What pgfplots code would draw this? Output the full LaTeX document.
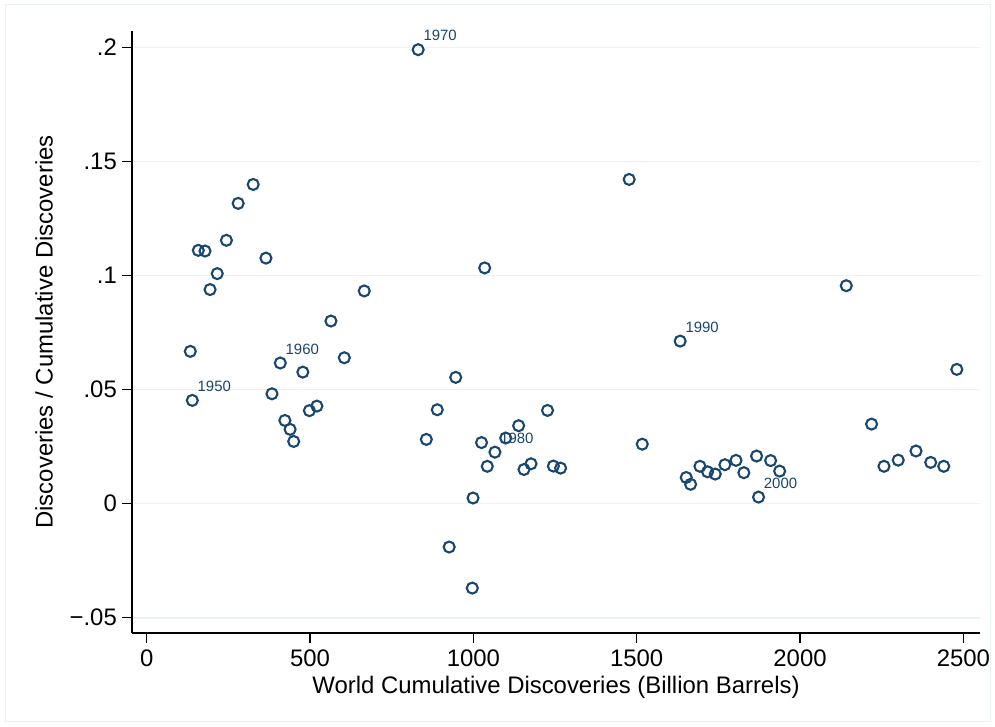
\documentclass[border=0pt]{standalone}
\usepackage{fontspec}
\setmainfont{Liberation Sans}
\usepackage{pgfplots}
\pgfplotsset{compat=1.18}
\definecolor{stnavy}{HTML}{1A476F}
\definecolor{stgrid}{HTML}{EAF2F3}
\begin{document}
\begin{tikzpicture}[x=1bp,y=1bp]
\useasboundingbox (0,0) rectangle (995,727);
\fill[white] (0,0) rectangle (995,727);
\draw[stgrid, line width=1bp] (5,5) rectangle (990,722);
\begin{axis}[
  at={(132bp,94bp)}, anchor=south west,
  scale only axis, width=848bp, height=602bp,
  xmin=-45, xmax=2551, ymin=-0.0567, ymax=0.2073,
  axis x line*=bottom, axis y line*=left,
  axis line style={line width=1.3bp, black, -},
  xtick={0,500,1000,1500,2000,2500},
  xticklabels={0,500,1000,1500,2000,2500},
  ytick={-0.05,0,0.05,0.1,0.15,0.2},
  yticklabels={−.05,0,.05,.1,.15,.2},
  tick align=outside, major tick length=10bp,
  tick style={line width=1.3bp, black},
  ymajorgrids, major grid style={stgrid, line width=1.6bp},
  ticklabel style={font=\fontsize{24}{28}\selectfont, inner sep=0pt},
  xticklabel style={anchor=base, yshift=-24bp},
  yticklabel style={anchor=east, xshift=-5bp},
  xlabel={World Cumulative Discoveries (Billion Barrels)},
  ylabel={Discoveries / Cumulative Discoveries},
  label style={font=\fontsize{24}{28}\selectfont, inner sep=0pt},
  xlabel style={at={(axis description cs:0.5,-0.1013)}, anchor=base},
  ylabel style={at={(axis description cs:-0.10377,0.5)}, anchor=center, rotate=0},
  clip=false,
]
\addplot[only marks, mark=*, mark size=0pt, nodes near coords,
  point meta=explicit symbolic,
  nodes near coords style={font=\fontsize{15}{18}\selectfont, text=stnavy,
    anchor=center, xshift=22bp, yshift=14bp, inner sep=0pt}]
  table[meta=lab] {
x y lab
139.6 0.0453 1950
409 0.0617 1960
831 0.1991 1970
1066 0.0226 1980
1633 0.0713 1990
1873 0.0029 2000
};
\addplot[only marks, mark=o, mark size=5.5bp,
  mark options={draw=stnavy, line width=2.1bp}]
  table {
x y
133.5 0.0668
139.6 0.0453
158 0.1111
178.5 0.1108
194 0.0939
216 0.1009
244 0.1155
280 0.1317
326 0.1400
365 0.1077
383.5 0.0482
409 0.0617
423 0.0365
439 0.0326
450 0.0273
478 0.0577
498 0.0408
521 0.0428
564 0.0801
605 0.0640
666 0.0933
831 0.1991
856 0.0282
889.5 0.0412
946 0.0554
926 -0.0190
1034.6 0.1034
996.7 -0.0370
999 0.0025
1025 0.0268
1042.6 0.0164
1066 0.0226
1099 0.0288
1138.6 0.0342
1155 0.0150
1176.5 0.0175
1227 0.0409
1245 0.0165
1267 0.0156
1477 0.1422
1517 0.0261
1633 0.0713
1651.7 0.0115
1665 0.0085
1693.6 0.0164
1717 0.0140
1740.5 0.0130
1770 0.0171
1804 0.0190
1828 0.0136
1867 0.0209
1873 0.0029
1910 0.0189
1937.6 0.0143
2141.6 0.0956
2219 0.0349
2257 0.0164
2300.6 0.0191
2355 0.0231
2400 0.0181
2440 0.0164
2480 0.0589
};
\end{axis}
\end{tikzpicture}
\end{document}
